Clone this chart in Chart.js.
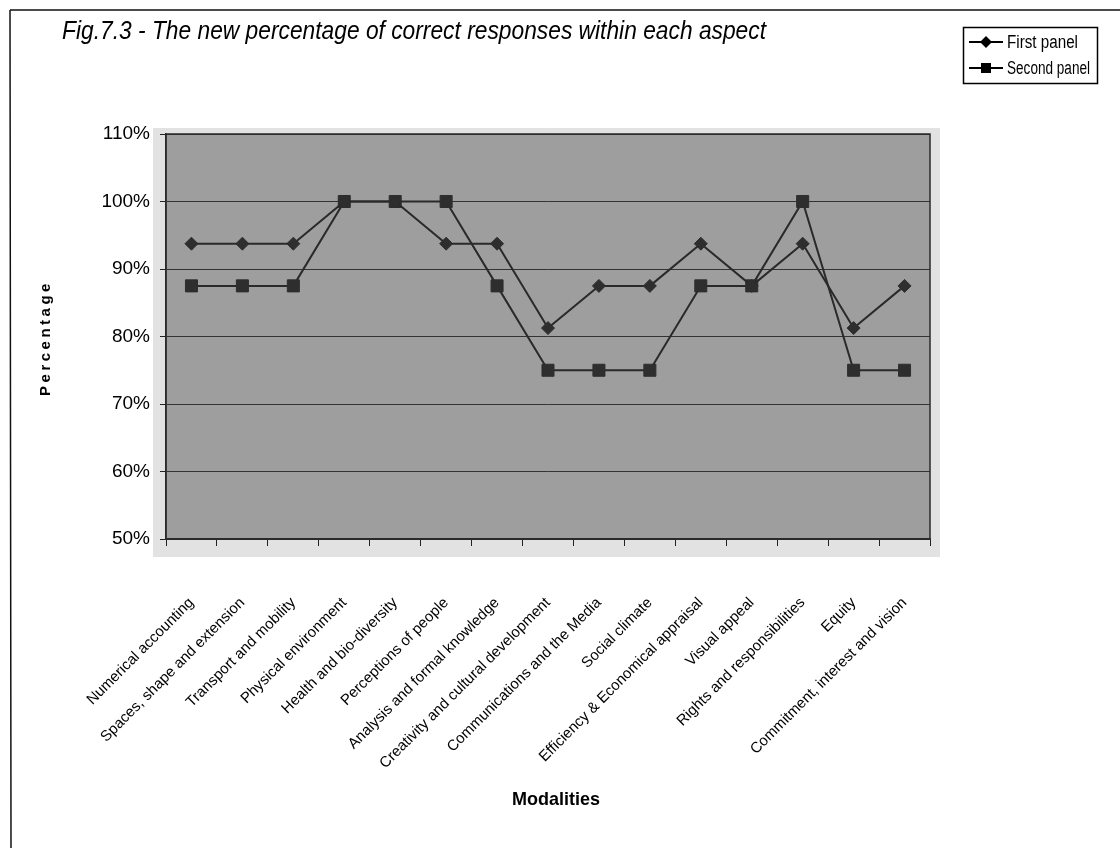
<!DOCTYPE html>
<html>
<head>
<meta charset="utf-8">
<script src="https://cdn.jsdelivr.net/npm/chart.js@4.4.1/dist/chart.umd.min.js"></script>
<style>
  html, body { margin: 0; padding: 0; background: #ffffff; }
  #wrap { width: 1120px; height: 848px; }
</style>
</head>
<body>
<div id="wrap"><canvas id="c" width="1120" height="848"></canvas></div>
<script>
const titleText = "Fig.7.3 - The new percentage of correct responses within each aspect";
const xTitle = "Modalities";
const yTitle = "Percentage";
const categories = [
  "Numerical accounting",
  "Spaces, shape and extension",
  "Transport and mobility",
  "Physical environment",
  "Health and bio-diversity",
  "Perceptions of people",
  "Analysis and formal knowledge",
  "Creativity and cultural development",
  "Communications and the Media",
  "Social climate",
  "Efficiency & Economical appraisal",
  "Visual appeal",
  "Rights and responsibilities",
  "Equity",
  "Commitment, interest and vision"
];
const seriesNames = ["First panel", "Second panel"];
const firstPanel  = [93.75, 93.75, 93.75, 100, 100, 93.75, 93.75, 81.25, 87.5, 87.5, 93.75, 87.5, 93.75, 81.25, 87.5];
const secondPanel = [87.5, 87.5, 87.5, 100, 100, 100, 87.5, 75, 75, 75, 87.5, 87.5, 100, 75, 75];
const yMin = 50, yMax = 110, yStep = 10;

const LINE = '#2a2a2a';

function drawMarker(ctx, style, x, y, r) {
  ctx.beginPath();
  if (style === 'rectRot') {
    ctx.moveTo(x, y - r); ctx.lineTo(x + r, y); ctx.lineTo(x, y + r); ctx.lineTo(x - r, y);
    ctx.closePath();
  } else {
    ctx.rect(x - r, y - r, 2 * r, 2 * r);
  }
  ctx.fill();
}

const decor = {
  id: 'decor',
  beforeDraw(chart) {
    const ctx = chart.ctx, a = chart.chartArea;
    ctx.save();
    ctx.fillStyle = '#ffffff';
    ctx.fillRect(0, 0, chart.width, chart.height);
    ctx.fillStyle = '#e2e2e2';
    ctx.fillRect(a.left - 13, a.top - 6, (a.right - a.left) + 23, (a.bottom - a.top) + 24);
    ctx.fillStyle = '#9e9e9e';
    ctx.fillRect(a.left, a.top, a.right - a.left, a.bottom - a.top);
    ctx.restore();
  },
  afterDatasetsDraw(chart) {
    const ctx = chart.ctx, a = chart.chartArea;
    ctx.save();
    ctx.strokeStyle = '#2a2a2a';
    ctx.lineWidth = 1.5;
    ctx.strokeRect(a.left, a.top, a.right - a.left, a.bottom - a.top);
    ctx.restore();
  },
  afterDraw(chart) {
    const ctx = chart.ctx;
    ctx.save();
    ctx.strokeStyle = '#111';
    ctx.lineWidth = 1.5;
    ctx.beginPath();
    ctx.moveTo(10, 10); ctx.lineTo(1120, 10);
    ctx.moveTo(10, 10); ctx.lineTo(11, 848);
    ctx.stroke();

    // title
    ctx.fillStyle = '#000';
    ctx.font = 'italic 25px "Liberation Sans", Arial, sans-serif';
    ctx.textBaseline = 'alphabetic';
    ctx.textAlign = 'left';
    let w = ctx.measureText(titleText).width;
    ctx.save();
    ctx.translate(62, 39);
    ctx.scale(704 / w, 1);
    ctx.fillText(titleText, 0, 0);
    ctx.restore();

    // y title
    ctx.save();
    ctx.font = 'bold 15px "Liberation Sans", Arial, sans-serif';
    ctx.letterSpacing = '3.5px';
    ctx.translate(46, 338);
    ctx.rotate(-Math.PI / 2);
    ctx.textAlign = 'center';
    ctx.textBaseline = 'middle';
    ctx.fillText(yTitle, 0, 0);
    ctx.restore();

    // x title
    ctx.save();
    ctx.font = 'bold 19px "Liberation Sans", Arial, sans-serif';
    w = ctx.measureText(xTitle).width;
    ctx.translate(556, 800);
    ctx.scale(88 / w, 1);
    ctx.textAlign = 'center';
    ctx.textBaseline = 'middle';
    ctx.fillText(xTitle, 0, 0);
    ctx.restore();

    // legend box
    ctx.fillStyle = '#fff';
    ctx.fillRect(963, 27, 134, 56);
    ctx.strokeStyle = '#000';
    ctx.lineWidth = 1.5;
    ctx.strokeRect(963.5, 27.5, 134, 56);
    const entries = chart.data.datasets;
    const ys = [42, 68];
    entries.forEach((ds, i) => {
      const y = ys[i];
      ctx.strokeStyle = '#000';
      ctx.lineWidth = 2;
      ctx.beginPath(); ctx.moveTo(969, y); ctx.lineTo(1003, y); ctx.stroke();
      ctx.fillStyle = '#000';
      drawMarker(ctx, ds.pointStyle, 986, y, ds.pointStyle === 'rect' ? 5 : 6);
      ctx.font = '18px "Liberation Sans", Arial, sans-serif';
      ctx.textAlign = 'left';
      ctx.textBaseline = 'middle';
      const tw = ctx.measureText(ds.label).width;
      const target = i === 0 ? 71 : 83;
      ctx.save();
      ctx.translate(1007, y + 1);
      ctx.scale(target / tw, 1);
      ctx.fillText(ds.label, 0, 0);
      ctx.restore();
    });
    ctx.restore();
  }
};

new Chart(document.getElementById('c'), {
  type: 'line',
  data: {
    labels: categories,
    datasets: [
      {
        label: seriesNames[0],
        data: firstPanel,
        borderColor: LINE,
        borderWidth: 2,
        pointStyle: 'rectRot',
        pointRadius: 6.5,
        pointBackgroundColor: '#2e2e2e',
        pointBorderColor: '#2e2e2e',
        pointBorderWidth: 1,
        tension: 0,
        fill: false
      },
      {
        label: seriesNames[1],
        data: secondPanel,
        borderColor: LINE,
        borderWidth: 2,
        pointStyle: 'rect',
        pointRadius: 8.5,
        pointBackgroundColor: '#2e2e2e',
        pointBorderColor: '#2e2e2e',
        pointBorderWidth: 1,
        tension: 0,
        fill: false
      }
    ]
  },
  options: {
    responsive: false,
    animation: false,
    devicePixelRatio: 1,
    layout: { padding: { left: 0, top: 134, right: 190, bottom: 0 } },
    plugins: {
      legend: { display: false },
      title: { display: false },
      tooltip: { enabled: false }
    },
    scales: {
      y: {
        min: yMin, max: yMax,
        ticks: {
          stepSize: yStep,
          callback: v => v + '%',
          color: '#000',
          font: { family: '"Liberation Sans", Arial, sans-serif', size: 19 },
          padding: 10
        },
        grid: { color: '#333333', lineWidth: 1, tickLength: 6, tickColor: '#222' },
        border: { display: true, color: '#2a2a2a', width: 1.5 },
        afterFit(s) { s.width = 166; }
      },
      x: {
        offset: true,
        ticks: {
          autoSkip: false,
          maxRotation: 45, minRotation: 45,
          color: '#000',
          font: { family: '"Liberation Sans", Arial, sans-serif', size: 15 },
          padding: 48
        },
        grid: { drawOnChartArea: false, offset: true, tickLength: 7, tickColor: '#222', lineWidth: 1 },
        border: { display: true, color: '#2a2a2a', width: 1.5 },
        afterFit(s) { s.height = 309; }
      }
    }
  },
  plugins: [decor]
});
</script>
</body>
</html>
